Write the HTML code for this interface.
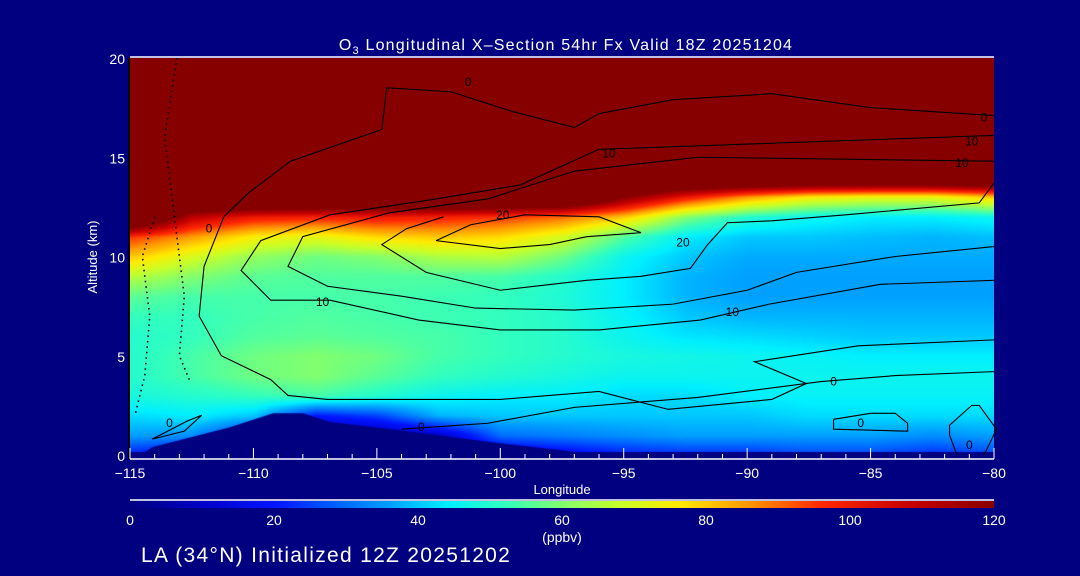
<!DOCTYPE html>
<html><head><meta charset="utf-8">
<style>
body{margin:0;background:#000080;}
#wrap{position:relative;width:1080px;height:576px;background:#000080;overflow:hidden;font-family:"Liberation Sans",sans-serif;color:#fff;}
</style></head>
<body>
<div id="wrap">
<svg id="svg" width="1080" height="576" style="position:absolute;left:0;top:0"></svg>
</div>
<script>
// ---- data ----
const lons = [-115,-112.5,-110,-107.5,-105,-102.5,-100,-97.5,-95,-92.5,-90,-87.5,-85,-82.5,-80];
const alts = [0,1,2,3,4,5,6,7,8,9,10,11,12,13,14,15,16,17,18,19,20];
const o3 = [
[20,15,5,5,5,5,10,15,20,22,22,25,25,22,25],
[36,34,20,5,5,10,30,32,34,36,36,36,36,34,36],
[42,44,40,20,25,38,40,40,40,40,40,42,42,42,42],
[48,50,52,54,50,46,44,44,42,42,44,45,45,45,45],
[50,54,58,60,56,52,50,48,46,46,46,46,46,46,46],
[50,54,58,60,58,54,52,50,48,47,46,45,44,44,44],
[50,52,55,56,55,54,52,50,46,43,42,41,40,40,40],
[52,52,54,55,54,53,52,50,45,40,38,38,38,38,38],
[56,54,54,54,54,53,52,49,44,38,36,36,36,36,36],
[66,60,56,55,55,55,54,50,44,38,36,36,36,36,36],
[80,70,62,58,60,65,66,58,46,40,37,37,37,37,37],
[95,85,75,72,78,80,78,70,55,44,40,40,39,38,39],
[150,110,100,98,100,98,95,90,80,60,50,46,44,44,46],
[150,150,150,150,150,150,150,150,120,100,85,75,72,72,80],
[150,150,150,150,150,150,150,150,150,150,150,150,150,150,150],
[150,150,150,150,150,150,150,150,150,150,150,150,150,150,150],
[150,150,150,150,150,150,150,150,150,150,150,150,150,150,150],
[150,150,150,150,150,150,150,150,150,150,150,150,150,150,150],
[150,150,150,150,150,150,150,150,150,150,150,150,150,150,150],
[150,150,150,150,150,150,150,150,150,150,150,150,150,150,150],
[150,150,150,150,150,150,150,150,150,150,150,150,150,150,150]];
const terrainLon = [-114.6,-114.07,-110.95,-109.2,-108,-106.9,-104.2,-100.1,-97.6,-96];
const terrainAlt = [0,0.4,1.4,2.1,2.1,1.66,1.26,0.6,0.25,0];
const xTicks = [-115,-110,-105,-100,-95,-90,-85,-80];
const xTickLabels = ["\u2212115","\u2212110","\u2212105","\u2212100","\u221295","\u221290","\u221285","\u221280"];
const yTicks = [0,5,10,15,20];
const cbTicks = [0,20,40,60,80,100,120];
const contour20 = [[-102.6,10.8],[-101.2,11.6],[-99,12.1],[-96,12],[-94.3,11.2],[-96.5,11],[-98,10.6],[-100,10.4],[-102.6,10.8]];
const contour20b = [[-80,13.7],[-80.6,12.7],[-86,12.1],[-89,11.8],[-90.8,11.7],[-91.6,10.6],[-92.3,9.4],[-94.3,9],[-96.5,8.8],[-100,8.3],[-103,9.2],[-104.8,10.6],[-103.8,11.4],[-102.3,12]];
const contour10 = [[-80,16.1],[-96,15.4],[-99.2,13.6],[-102.85,12.85],[-106.9,12.1],[-109.7,10.8],[-110.5,9.3],[-109.3,7.8],[-106.9,7.8],[-103.3,6.8],[-100,6.3],[-96,6.3],[-91.9,6.8],[-89.1,7.6],[-84.6,8.6],[-80,8.8]];
const contour15 = [[-80,14.8],[-92,15],[-97,14.3],[-100.5,12.9],[-104.5,12.2],[-108,11],[-108.6,9.5],[-107,8.5],[-104,8],[-101,7.4],[-97,7.3],[-93,7.6],[-90,8.3],[-88,9.2],[-84,10],[-80,10.5]];
const contour0 = [[-80,17.1],[-85,17.5],[-89,18.2],[-93,17.9],[-96,17.2],[-97,16.5],[-99.5,17.3],[-102,18.3],[-104.6,18.5],[-104.8,16.4],[-108.5,14.8],[-110.2,13.2],[-111.2,12],[-112,9.5],[-112.2,7],[-111.3,5],[-109.3,3.8],[-108.6,3],[-107,2.8],[-100,2.8],[-96,3.2],[-93.2,2.3],[-89,2.8],[-87.6,3.6],[-89.7,4.7],[-85.5,5.5],[-80,5.8]];
const contour0b = [[-80,4.2],[-84,4],[-87,3.7],[-92,2.9],[-97,2.4],[-100.5,1.6],[-104,1.3]];
const contour0c = [[-114.1,0.8],[-112.7,1.7],[-112.1,2],[-112.8,1.2],[-114.1,0.8]];
const contour0d = [[-86.5,1.8],[-85,2.1],[-84,2.1],[-83.5,1.6],[-83.5,1.2],[-86.5,1.3],[-86.5,1.8]];
const contour0e = [[-81.5,0],[-81.8,1],[-81.8,1.5],[-80.9,2.5],[-80.6,2.5],[-79.9,1.3],[-80.4,0]];
const contourNeg = [[-113.1,20],[-113.6,16],[-113.2,12],[-112.8,8],[-113,5],[-112.6,3.8]];
const contourNeg2 = [[-114,12],[-114.5,10],[-114.2,7],[-114.4,4],[-114.8,2]];
// ---- scales ----
const X0=130,X1=994,Y0=455,Y1=58;
const xs=l=>X0+(l+115)/35*(X1-X0);
const ys=a=>Y0-a/20*(Y0-Y1);
const stops=[[0,[0,0,128]],[10,[0,0,200]],[20,[0,20,255]],[30,[0,110,255]],[36,[0,160,255]],[44,[0,240,255]],[52,[50,255,190]],[60,[130,255,110]],[68,[200,255,40]],[76,[255,235,0]],[86,[255,150,0]],[96,[255,40,0]],[108,[200,0,0]],[120,[135,0,0]]];
function cmap(v){
  if(v<=0)return stops[0][1];
  for(let i=1;i<stops.length;i++){if(v<=stops[i][0]){const a=stops[i-1],b=stops[i];const t=(v-a[0])/(b[0]-a[0]);return a[1].map((c,k)=>Math.round(c+(b[1][k]-c)*t));}}
  return stops[stops.length-1][1];
}
function interp(lon,alt){
  let fi=(lon-lons[0])/(lons[1]-lons[0]);let fj=alt/(alts[1]-alts[0]);
  fi=Math.max(0,Math.min(lons.length-1.0001,fi));fj=Math.max(0,Math.min(alts.length-1.0001,fj));
  const i=Math.floor(fi),j=Math.floor(fj),u=fi-i,w=fj-j;
  return o3[j][i]*(1-u)*(1-w)+o3[j][i+1]*u*(1-w)+o3[j+1][i]*(1-u)*w+o3[j+1][i+1]*u*w;
}
// ---- heatmap canvas ----
const wrap=document.getElementById('wrap');
const cv=document.createElement('canvas');
cv.width=X1-X0;cv.height=Y0-Y1;
cv.style.cssText=`position:absolute;left:${X0}px;top:${Y1}px`;


wrap.insertBefore(cv,wrap.firstChild);
const ctx=cv.getContext('2d');const img=ctx.createImageData(cv.width,cv.height);
for(let py=0;py<cv.height;py++){const alt=(Y0-(Y1+py))/(Y0-Y1)*20;
 for(let px=0;px<cv.width;px++){const lon=-115+px/(X1-X0)*35;const c=cmap(interp(lon,alt));const k=(py*cv.width+px)*4;img.data[k]=c[0];img.data[k+1]=c[1];img.data[k+2]=c[2];img.data[k+3]=255;}}
ctx.putImageData(img,0,0);
// terrain
ctx.fillStyle='#000080';ctx.beginPath();ctx.moveTo(xs(terrainLon[0])-X0,cv.height);
terrainLon.forEach((l,i)=>ctx.lineTo(xs(l)-X0,ys(terrainAlt[i])-Y1));
ctx.lineTo(xs(terrainLon[terrainLon.length-1])-X0,cv.height);ctx.closePath();ctx.fill();
ctx.fillRect(0,cv.height-3,cv.width,3);
// ---- colorbar ----
const cb=document.createElement('canvas');cb.width=X1-X0;cb.height=7;
cb.style.cssText=`position:absolute;left:${X0}px;top:501px`;


wrap.appendChild(cb);
const c2=cb.getContext('2d');
for(let px=0;px<cb.width;px++){const c=cmap(px/cb.width*120);c2.fillStyle=`rgb(${c})`;c2.fillRect(px,0,1,7);}
// ---- svg ----
const svg=document.getElementById('svg');const NS='http://www.w3.org/2000/svg';
function mk(tag,attrs,parent){const e=document.createElementNS(NS,tag);for(const k in attrs)e.setAttribute(k,attrs[k]);(parent||svg).appendChild(e);return e;}
function line(d,name,dash){const p=mk('polyline',{points:d.map(q=>xs(q[0])+','+ys(q[1])).join(' '),fill:'none',stroke:'#000','stroke-width':dash?1.6:1.1,'stroke-dasharray':dash||'none'});
 
 }
line(contour0,'contour-0');line(contour0b,'contour-0-lower');line(contour0c,'contour-0-loop-west');line(contour0d,'contour-0-loop-east');line(contour0e,'contour-0-loop-far-east');
line(contour10,'contour-10');line(contour15,'contour-15');line(contour20,'contour-20');line(contour20b,'contour-20-east');
line(contourNeg,'contour-negative','1.5 4');line(contourNeg2,'contour-negative-2','1.5 4');
function txt(x,y,s,size,anchor,name,fill){const t=mk('text',{x:x,y:y,fill:fill||'#fff','font-size':size,'text-anchor':anchor||'middle','font-family':'Liberation Sans, sans-serif'});t.textContent=s;
 
 return t;}
// contour labels
[['20',-99.9,12.1],['20',-92.6,10.7],['10',-107.2,7.7],['10',-90.6,7.2],['10',-95.6,15.2],['10',-80.9,15.8],['10',-81.3,14.7],['0',-111.8,11.4],['0',-113.4,1.6],['0',-86.5,3.7],['0',-85.4,1.6],['0',-103.2,1.4],['0',-101.3,18.8],['0',-80.4,17],['0',-81,0.5]].forEach(a=>txt(xs(a[1]),ys(a[2])+4,a[0],12,'middle','contour-label','#000'));
// axes
const ax=mk('line',{x1:X0,y1:459,x2:X1,y2:459,stroke:'#fff','stroke-width':1.5});
const tp=mk('line',{x1:X0,y1:57,x2:X1,y2:57,stroke:'#fff','stroke-width':1.5});
mk('line',{x1:X0-1,y1:57,x2:X0-1,y2:459,stroke:'#000','stroke-width':2});
for(let l=-115;l<=-80;l++){const maj=xTicks.includes(l);mk('line',{x1:xs(l),y1:459,x2:xs(l),y2:maj?448:454,stroke:'#fff','stroke-width':1});}
xTicks.forEach((l,i)=>txt(xs(l),478,xTickLabels[i],14,'middle','x-tick-label'));
yTicks.forEach(a=>txt(X0-5,ys(a)+6,String(a),14,'end','y-tick-label'));
txt(562,494,'Longitude',13,'middle','x-axis-title');
const yt=txt(97,257,'Altitude (km)',13,'middle','y-axis-title');yt.setAttribute('transform','rotate(-90 97 257)');
const tl=txt(566,50,'',16,'middle','chart-title');tl.setAttribute('letter-spacing','1.2');tl.innerHTML='O<tspan font-size="11" dy="4">3</tspan><tspan dy="-4"> Longitudinal X\u2013Section 54hr  Fx Valid 18Z 20251204</tspan>';tl.setAttribute('xml:space','preserve');
const cbl=mk('line',{x1:X0,y1:500,x2:X1,y2:500,stroke:'#fff','stroke-width':1.5});
cbTicks.forEach(v=>txt(X0+v/120*(X1-X0),525,String(v),14,'middle','colorbar-tick-label'));
txt(562,542,'(ppbv)',14,'middle','colorbar-units');
const ft=txt(141,562,'LA (34°N) Initialized 12Z 20251202',21,'start','footer-text');ft.setAttribute('letter-spacing','1.3');
</script>
</body></html>
